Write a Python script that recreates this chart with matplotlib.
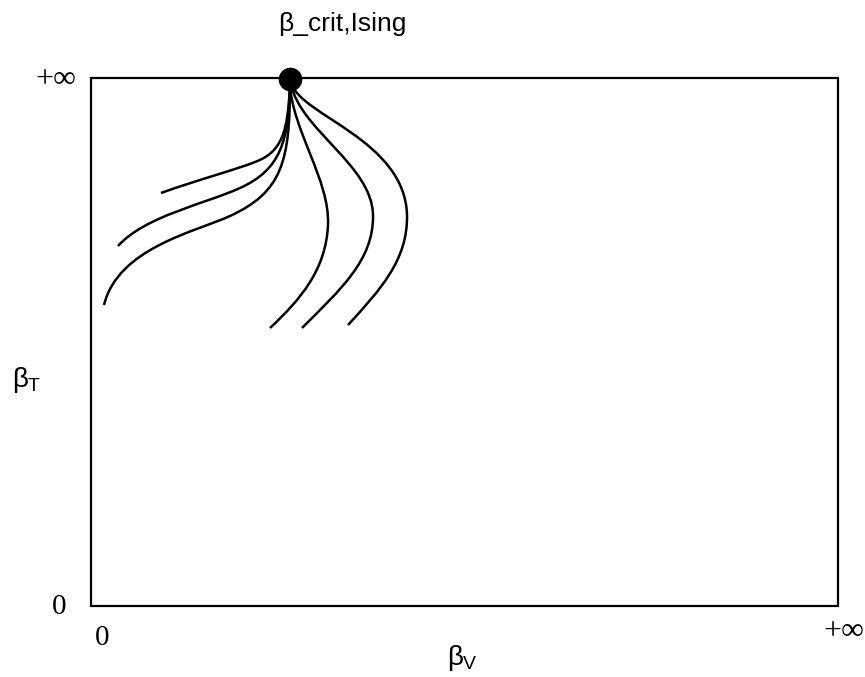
import numpy as np
import matplotlib
matplotlib.use("Agg")
import matplotlib.pyplot as plt
from matplotlib.path import Path
from matplotlib.patches import PathPatch, Rectangle

plt.rcParams['mathtext.fontset'] = 'custom'
plt.rcParams['mathtext.rm'] = 'Liberation Sans'
plt.rcParams['mathtext.it'] = 'Liberation Sans'

# frame (pixel coords of the sketch)
box_x = [91, 838]
box_y = [78, 606]
crit_point = (290, 79)

# flow lines, each = two cubic bezier segments (start, c1, c2, mid, c3, c4, end)
flow_left = [
    [(290, 84), (288, 132), (282, 152), (255, 162), (235, 170), (200, 179), (161, 193)],
    [(290, 84), (289, 142), (280, 170), (240, 188), (205, 204), (145, 216), (118, 246)],
    [(290, 84), (290, 162), (282, 192), (230, 216), (195, 232), (118, 248), (104, 305)],
]
flow_right = [
    [(290, 84), (292, 130), (330, 180), (328, 225), (326, 270), (300, 300), (270, 328)],
    [(291, 84), (300, 130), (372, 165), (373, 215), (374, 260), (340, 290), (302, 328)],
    [(292, 84), (300, 115), (405, 140), (407, 215), (408, 260), (380, 290), (348, 325)],
]

codes = [Path.MOVETO] + [Path.CURVE4] * 6

fig = plt.figure(figsize=(8.65, 6.77), dpi=100)
ax = fig.add_axes([0, 0, 1, 1])
ax.set_xlim(0, 865)
ax.set_ylim(677, 0)
ax.axis('off')

ax.add_patch(Rectangle((box_x[0], box_y[0]), box_x[1] - box_x[0], box_y[1] - box_y[0],
                       fill=False, lw=1.6, ec='black'))

for pts in flow_left + flow_right:
    ax.add_patch(PathPatch(Path(pts, codes), fill=False, lw=1.8, ec='black'))

ax.plot(*crit_point, 'o', color='black', ms=16, zorder=5)

serif = 'Liberation Serif'
ax.text(342, 24, 'β_crit,Ising', family='Liberation Sans', fontsize=19, ha='center', va='center')
ax.text(76, 80, '+∞', family=serif, fontsize=23, ha='right', va='center')
ax.text(66, 607, '0', family=serif, fontsize=21, ha='right', va='center')
ax.text(102, 638, '0', family=serif, fontsize=21, ha='center', va='center')
ax.text(844, 631, '+∞', family=serif, fontsize=23, ha='center', va='center')
ax.text(12, 380, r'$\beta_\mathrm{T}$', fontsize=20, ha='left', va='center')
ax.text(447, 658, r'$\beta_\mathrm{V}$', fontsize=20, ha='left', va='center')

fig.savefig('out.png', dpi=100)
